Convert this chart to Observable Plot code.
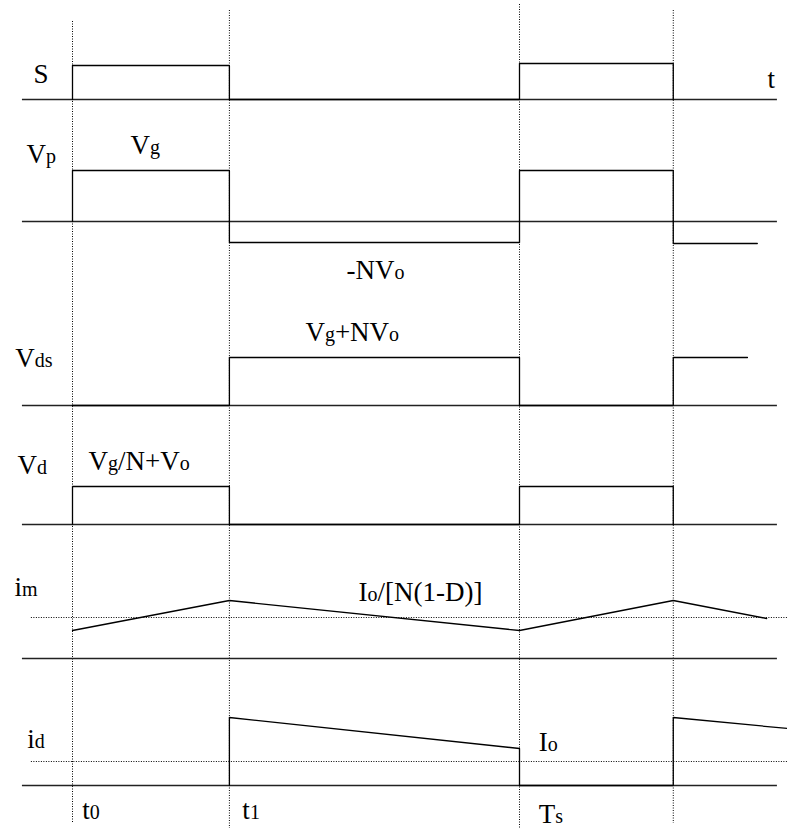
<!DOCTYPE html>
<html><head><meta charset="utf-8">
<script src="https://cdn.jsdelivr.net/npm/d3@7"></script>
<script src="https://cdn.jsdelivr.net/npm/@observablehq/plot@0.6"></script>
<style>body{margin:0;background:#fff}</style>
</head><body><div id="chart"></div>
<script>
// time in units of the switching period Ts
const events = [0, 0.351, 1, 1.344];            // t0, t1, Ts, Ts+t1
const eventTops = [-2.1, -1.0, -0.4, -1.0];
const eventBottoms = [-82.3, -82.8, -82.8, -82.3];

const traces = ["S", "Vp", "Vds", "Vd", "im", "id"];
const baselines = [-9.9, -22.1, -40.5, -52.4, -65.8, -78.5];
const axisSpan = [-0.112, 1.577];

// waveform vertices (time, value above the trace baseline)
const sT   = [0, 0, 0.351, 0.351, 1, 1, 1.344, 1.344];
const sV   = [0, 3.4, 3.4, 0, 0, 3.6, 3.6, 0];
const vpT  = [0, 0, 0.351, 0.351, 1, 1, 1.344, 1.344, 1.532];
const vpV  = [0, 5.1, 5.1, -2.1, -2.1, 5.1, 5.1, -2.2, -2.2];
const vdsT = [0, 0.351, 0.351, 1, 1, 1.344, 1.344, 1.510];
const vdsV = [0, 0, 4.8, 4.8, 0, 0, 4.8, 4.8];
const vdT  = [0, 0, 0.351, 0.351, 1, 1, 1.344, 1.344];
const vdV  = [0, 3.8, 3.8, 0, 0, 3.8, 3.8, 0];
const imT  = [0, 0.351, 1, 1.344, 1.553];
const imV  = [2.8, 5.8, 2.8, 5.8, 4.0];
const idT  = [0.351, 0.351, 1, 1, 1.344, 1.344, 1.6];
const idV  = [0, 6.8, 3.7, 0, 0, 6.8, 5.7];

// dotted reference levels: average magnetizing current, output current Io
const refTrace = ["im", "id"];
const refLevel = [4.1, 2.4];
const refSpan = [-0.092, 1.6];

// labels ({} = subscript)
const labelText = ["S", "t", "V{p}", "V{g}", "-NV{o}", "V{g}+NV{o}", "V{ds}", "V{d}", "V{g}/N+V{o}",
  "i{m}", "I{o}/[N(1-D)]", "i{d}", "I{o}", "t{0}", "t{1}", "T{s}"];
const labelX = [-0.087, 1.555, -0.103, 0.130, 0.613, 0.521, -0.128, -0.123, 0.036,
  -0.130, 0.640, -0.101, 1.043, 0.022, 0.380, 1.043];
const labelY = [-8.2, -8.7, -16.2, -15.3, -27.8, -34.0, -36.6, -47.3, -46.9,
  -59.5, -60.0, -74.7, -75.0, -81.8, -81.8, -82.2];

const waves = {S: [sT, sV], Vp: [vpT, vpV], Vds: [vdsT, vdsV], Vd: [vdT, vdV], im: [imT, imV], id: [idT, idV]};
const rows = [];
traces.forEach((name, k) => {
  const [T, V] = waves[name];
  T.forEach((t, i) => rows.push({trace: name, t, v: baselines[k] + V[i]}));
});
const baseRows = baselines.map(b => ({y: b, x1: axisSpan[0], x2: axisSpan[1]}));
const refRows = refTrace.map((n, i) => ({y: baselines[traces.indexOf(n)] + refLevel[i], x1: refSpan[0], x2: refSpan[1]}));
const eventRows = events.map((t, i) => ({x: t, y1: eventTops[i], y2: eventBottoms[i]}));
const labels = labelText.map((s, i) => ({text: s, x: labelX[i], y: labelY[i]}));

const svg = Plot.plot({
  width: 787, height: 828,
  margin: 0,
  x: {domain: [-72 / 447, 715 / 447], axis: null},
  y: {domain: [-82.8, 0], axis: null},
  style: "background: white;",
  marks: [
    Plot.ruleX(eventRows, {x: "x", y1: "y1", y2: "y2", stroke: "#000", strokeWidth: 1, strokeDasharray: "1,1.5"}),
    Plot.ruleY(refRows, {y: "y", x1: "x1", x2: "x2", stroke: "#000", strokeWidth: 1, strokeDasharray: "1,1.5"}),
    Plot.ruleY(baseRows, {y: "y", x1: "x1", x2: "x2", stroke: "#222", strokeWidth: 1.3}),
    Plot.line(rows, {x: "t", y: "v", z: "trace", stroke: "#000", strokeWidth: 1.3}),
    Plot.text(labels, {x: "x", y: "y", text: "text", textAnchor: "start", fontSize: 27, fontFamily: "Liberation Serif", fill: "#000"})
  ]
});

d3.select(svg).selectAll('g[aria-label="text"] text').each(function () {
  const s = this.textContent;
  this.textContent = "";
  this.setAttribute("y", 0);
  this.style.setProperty("font-family", "Liberation Serif, serif", "important");
  for (const m of s.matchAll(/\{([^}]*)\}|([^{]+)/g)) {
    const ts = document.createElementNS("http://www.w3.org/2000/svg", "tspan");
    ts.style.setProperty("font-family", "Liberation Serif, serif", "important");
    if (m[1] !== undefined) { ts.setAttribute("font-size", 20); ts.textContent = m[1]; }
    else ts.textContent = m[2];
    this.appendChild(ts);
  }
});
document.getElementById("chart").appendChild(svg);
</script>
</body></html>
